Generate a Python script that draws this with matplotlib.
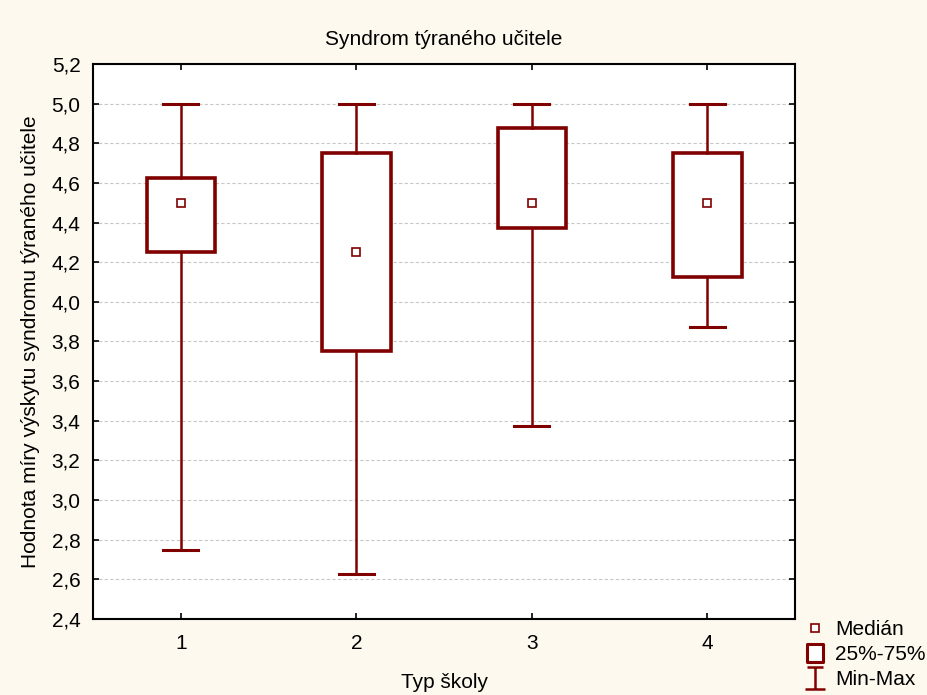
import matplotlib
matplotlib.use("Agg")
import matplotlib.pyplot as plt
from matplotlib.ticker import FuncFormatter, MultipleLocator
from matplotlib.lines import Line2D
from matplotlib.path import Path

plt.rcParams['font.family'] = ['Liberation Sans', 'DejaVu Sans']

skoly = [1, 2, 3, 4]
minima = [2.75, 2.625, 3.375, 3.875]
q25 = [4.25, 3.75, 4.375, 4.125]
medians = [4.5, 4.25, 4.5, 4.5]
q75 = [4.625, 4.75, 4.875, 4.75]
maxima = [5.0, 5.0, 5.0, 5.0]

red = '#800000'
bg = '#fdf9ee'
fs = 15

fig = plt.figure(figsize=(9.27, 6.95), dpi=100, facecolor=bg)
ax = fig.add_axes([0.1003, 0.1094, 0.7576, 0.7985])

stats = []
for i in range(len(skoly)):
    stats.append(dict(med=medians[i], q1=q25[i], q3=q75[i], whislo=minima[i],
                      whishi=maxima[i], mean=medians[i], fliers=[], label=str(skoly[i])))

ax.bxp(stats, positions=skoly, widths=0.39, capwidths=0.2, showmeans=True,
       showfliers=False, patch_artist=True,
       boxprops=dict(facecolor='white', edgecolor=red, linewidth=2.6),
       whiskerprops=dict(color=red, linewidth=1.8),
       capprops=dict(color=red, linewidth=2.2),
       medianprops=dict(linewidth=0),
       meanprops=dict(marker='s', markerfacecolor='white', markeredgecolor=red,
                      markersize=6, markeredgewidth=1.2),
       zorder=3)

ax.set_xlim(0.5, 4.5)
ax.set_ylim(2.4, 5.2)
ax.yaxis.set_major_locator(MultipleLocator(0.2))
ax.yaxis.set_major_formatter(FuncFormatter(lambda v, p: ('%.1f' % v).replace('.', ',')))
ax.set_xticks(skoly)
ax.set_xticklabels([str(s) for s in skoly])
ax.grid(axis='y', color='#c8c8c8', linestyle=(0, (3, 2)), linewidth=0.8, zorder=0)
ax.set_axisbelow(True)
ax.tick_params(direction='in', length=4, width=1.2, top=True, right=True,
               labelsize=fs, colors='black')
ax.tick_params(axis='x', pad=11)
ax.tick_params(axis='y', pad=9)
for s in ax.spines.values():
    s.set_linewidth(1.5)

ax.set_title('Syndrom týraného učitele', fontsize=fs, pad=14)
ax.set_xlabel('Typ školy', fontsize=fs, labelpad=14)
ax.set_ylabel('Hodnota míry výskytu syndromu týraného učitele', fontsize=fs, labelpad=8)

# legend icons
boxmark = Path([(-0.42, -0.5), (0.42, -0.5), (0.42, 0.5), (-0.42, 0.5), (-0.42, -0.5)],
               [Path.MOVETO, Path.LINETO, Path.LINETO, Path.LINETO, Path.CLOSEPOLY])
ibeam = Path([(-0.45, -0.5), (0.45, -0.5), (0, -0.5), (0, 0.5), (-0.38, 0.5), (0.38, 0.5)],
             [Path.MOVETO, Path.LINETO, Path.MOVETO, Path.LINETO, Path.MOVETO, Path.LINETO])
handles = [
    Line2D([], [], linestyle='none', marker='s', markerfacecolor='white',
           markeredgecolor=red, markersize=6, markeredgewidth=1.2),
    Line2D([], [], linestyle='none', marker=boxmark, markerfacecolor='white',
           markeredgecolor=red, markersize=13, markeredgewidth=2.2),
    Line2D([], [], linestyle='none', marker=ibeam, markersize=16,
           markeredgecolor=red, markeredgewidth=1.8),
]
fig.legend(handles, ['Medián', '25%-75%', 'Min-Max'], loc='upper left',
           bbox_to_anchor=(0.868, 0.108), frameon=False, fontsize=fs,
           handlelength=1.0, handletextpad=0.45, labelspacing=0.3,
           borderaxespad=0, borderpad=0)

fig.savefig('out.png', dpi=100, facecolor=bg)
